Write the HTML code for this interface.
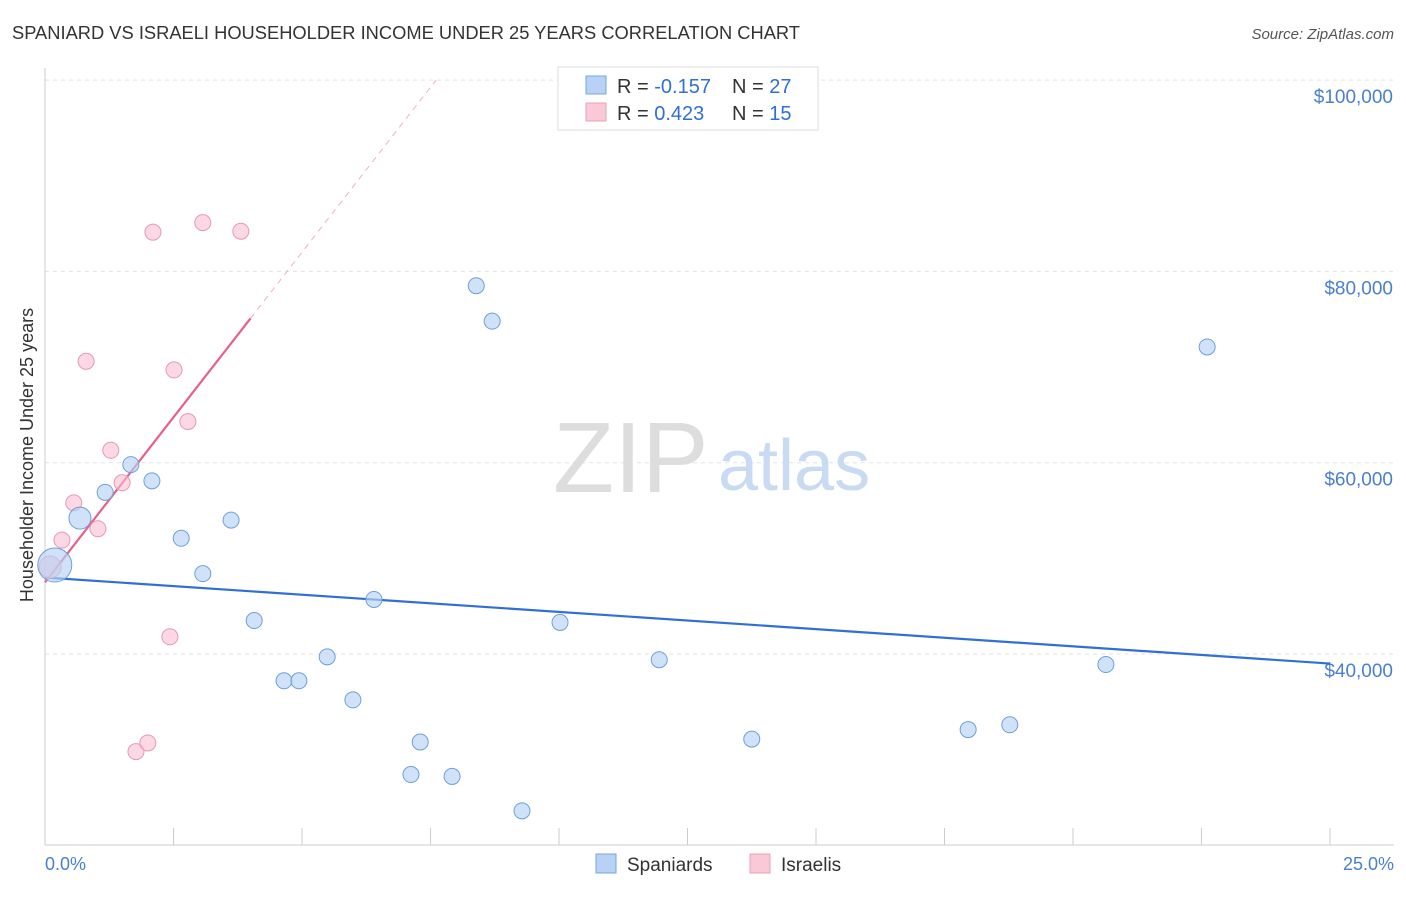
<!DOCTYPE html>
<html><head><meta charset="utf-8"><style>
body{margin:0;background:#fff;font-family:"Liberation Sans",sans-serif;}
svg text{font-family:"Liberation Sans",sans-serif;}
</style></head><body>
<svg id="c" width="1406" height="892" viewBox="0 0 1406 892">
<text x="12" y="39" font-size="18" fill="#333" textLength="788" lengthAdjust="spacingAndGlyphs">SPANIARD VS ISRAELI HOUSEHOLDER INCOME UNDER 25 YEARS CORRELATION CHART</text>
<text x="1394" y="39" font-size="15" fill="#555" font-style="italic" text-anchor="end">Source: ZipAtlas.com</text>
<g id="grid"></g>
<g id="axes"></g>
<text x="553" y="492" font-size="100" fill="#ddd" font-family="Liberation Serif">ZIP</text>
<text x="718" y="490" font-size="72" fill="#c9dbf2">atlas</text>
<g id="lines"></g>
<g id="pts"></g>
<text transform="translate(33,455) rotate(-90)" font-size="18" fill="#333" text-anchor="middle">Householder Income Under 25 years</text>
<text x="45" y="870" font-size="18" fill="#4a7fd0">0.0%</text>
<text x="1394" y="870" font-size="18" fill="#4a7fd0" text-anchor="end">25.0%</text>
<g>
<rect x="558" y="67" width="260" height="63" fill="#fff" stroke="#ddd"/>
<rect x="586" y="76" width="20" height="18" fill="#b7d2f5" stroke="#7aa6e0"/>
<rect x="586" y="103" width="20" height="18" fill="#fac9d8" stroke="#eda0b7"/>
<text x="617" y="93" font-size="20" fill="#333">R = <tspan fill="#2f6fd6">-0.157</tspan></text>
<text x="732" y="93" font-size="20" fill="#333">N = <tspan fill="#2f6fd6">27</tspan></text>
<text x="617" y="120" font-size="20" fill="#333">R = <tspan fill="#2f6fd6"> 0.423</tspan></text>
<text x="732" y="120" font-size="20" fill="#333">N = <tspan fill="#2f6fd6">15</tspan></text>
</g>
<g>
<rect x="596" y="854" width="20" height="19" fill="#b7d2f5" stroke="#7aa6e0"/>
<text x="627" y="871" font-size="19" fill="#333">Spaniards</text>
<rect x="750" y="854" width="20" height="19" fill="#fac9d8" stroke="#eda0b7"/>
<text x="781" y="871" font-size="19" fill="#333">Israelis</text>
</g>
</svg>
<script>
const yTicks=[40000,60000,80000,100000];
const yTickLabels=["$40,000","$60,000","$80,000","$100,000"];
const blueX=[0.19,0.68,1.17,1.67,2.08,2.65,3.07,3.62,4.07,4.65,4.94,5.49,5.99,6.40,7.30,7.12,7.92,8.39,8.70,9.28,10.02,11.95,13.75,17.96,18.77,20.64,22.61];
const blueY=[49300,54200,56900,59800,58100,52100,48400,54000,43500,37200,37200,39700,35200,45700,30800,27400,27200,78500,74800,23600,43300,39400,31100,32100,32600,38900,72100];
const pinkX=[0.10,0.33,0.56,0.80,1.03,1.28,1.50,1.77,2.00,2.10,2.43,2.51,2.78,3.07,3.81];
const pinkY=[49100,51900,55800,70600,53100,61300,57900,29800,30700,84100,41800,69700,64300,85100,84200];
const blueTrend=[48000,39000]; // value at 0% and 25%
const pinkTrend=[47500,6900]; // intercept, slope per %
const NS="http://www.w3.org/2000/svg";
const X=p=>45+p*51.4;
const Y=v=>654-(v-40000)*0.009565;
function mk(tag,at,parent){const e=document.createElementNS(NS,tag);for(const k in at)e.setAttribute(k,at[k]);document.getElementById(parent).appendChild(e);return e;}
yTicks.forEach((t,i)=>{
 const l=mk('line',{x1:45,x2:1394,y1:Y(t),y2:Y(t),stroke:'#e3e3e3','stroke-dasharray':'4,4'},'grid');
 
 
 const tx=mk('text',{x:1393,y:Y(t)+23,'font-size':19,fill:'#4a7fd0','text-anchor':'end'},'grid');
 tx.textContent=yTickLabels[i];
 
 
});
let a=mk('line',{x1:45,x2:45,y1:68,y2:845,stroke:'#ccc'},'axes');


a=mk('line',{x1:45,x2:1394,y1:845,y2:845,stroke:'#ccc'},'axes');


for(let i=1;i<=10;i++){const t=mk('line',{x1:X(i*2.5),x2:X(i*2.5),y1:828,y2:845,stroke:'#ccc'},'axes');
 
 }
let tl=mk('line',{x1:X(0),y1:Y(blueTrend[0]),x2:X(25),y2:Y(blueTrend[1]),stroke:'#2f6fd6','stroke-width':2.2},'lines');


const pe=(100000-pinkTrend[0])/pinkTrend[1];
tl=mk('line',{x1:X(4),y1:Y(pinkTrend[0]+4*pinkTrend[1]),x2:X(pe),y2:Y(100000),stroke:'#f0b0c4','stroke-width':1,'stroke-dasharray':'6,5'},'lines');


tl=mk('line',{x1:X(0),y1:Y(pinkTrend[0]),x2:X(4),y2:Y(pinkTrend[0]+4*pinkTrend[1]),stroke:'#e8608a','stroke-width':2.2},'lines');


pinkX.forEach((x,i)=>{const c=mk('circle',{cx:X(x),cy:Y(pinkY[i]),r:i==0?11:8,fill:'rgba(248,190,208,0.6)',stroke:'#e899b2','stroke-width':1},'pts');
 
 });
blueX.forEach((x,i)=>{const c=mk('circle',{cx:X(x),cy:Y(blueY[i]),r:i==0?17:(i==1?11:8),fill:'rgba(183,210,245,0.65)',stroke:'#6f9fdc','stroke-width':1},'pts');
 
 });
</script>
</body></html>
